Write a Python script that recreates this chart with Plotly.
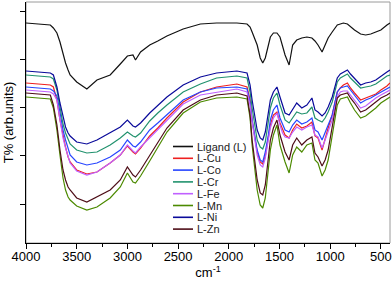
import plotly.graph_objects as go

# wavenumber grid (cm-1)
wavenumber = [4000, 3850, 3760, 3730, 3695, 3665, 3635, 3610, 3585, 3565, 3500, 3400, 3300, 3170,
              3070, 3000, 2945, 2920, 2870, 2780, 2700, 2610, 2450, 2280, 2120, 1920, 1820, 1790,
              1770, 1720, 1690, 1665, 1640, 1610, 1590, 1560, 1525, 1495, 1470, 1445, 1405, 1370,
              1330, 1280, 1230, 1180, 1150, 1120, 1080, 1050, 1020, 980, 930, 900, 870, 830, 800,
              760, 700, 650, 600, 550, 500, 440, 410]

# depth readings (arb. units, larger = lower on chart); T = 250 - depth
ligand = [23, 24, 25, 28, 33, 42, 55, 63, 70, 75, 82, 89, 80, 75, 64, 56, 55, 60, 52, 45, 41, 36, 29,
          24, 23, 23, 24, 27, 32, 45, 58, 63, 58, 45, 37, 33, 33, 37, 45, 55, 65, 45, 40, 38, 37, 38,
          41, 45, 52, 45, 38, 32, 25, 24, 23, 24, 27, 30, 34, 35, 34, 32, 30, 25, 23]
l_cu = [83, 84, 85, 87, 100, 120, 137, 147, 157, 162, 170, 174, 172, 163, 155, 146, 152, 154, 148, 136,
        128, 118, 102, 92, 87, 84, 87, 100, 120, 152, 162, 164, 156, 138, 125, 115, 112, 123, 130, 135,
        138, 130, 124, 128, 126, 122, 136, 138, 150, 138, 128, 115, 92, 88, 85, 83, 88, 93, 100, 98,
        96, 94, 90, 86, 83]
l_co = [87, 88, 89, 91, 96, 112, 130, 140, 150, 155, 162, 165, 163, 157, 150, 140, 146, 147, 142, 130,
        123, 115, 100, 92, 88, 87, 89, 102, 120, 150, 160, 162, 152, 135, 120, 110, 105, 118, 125, 130,
        132, 125, 120, 124, 122, 118, 130, 132, 140, 133, 125, 115, 92, 88, 87, 86, 90, 95, 103, 100,
        98, 95, 92, 89, 87]
l_cr = [75, 76, 77, 79, 90, 107, 124, 133, 140, 144, 150, 153, 152, 145, 138, 132, 136, 137, 133, 121,
        113, 105, 92, 84, 78, 76, 78, 92, 108, 140, 147, 149, 142, 120, 108, 98, 93, 105, 113, 120, 123,
        118, 112, 114, 113, 107, 118, 120, 122, 118, 112, 102, 82, 78, 76, 74, 78, 82, 88, 87, 86, 84,
        80, 76, 75]
l_fe = [90, 91, 92, 94, 100, 120, 138, 148, 158, 163, 171, 175, 172, 163, 155, 145, 151, 153, 147, 138,
        130, 120, 104, 95, 92, 89, 92, 105, 122, 155, 165, 167, 158, 140, 128, 118, 113, 125, 133, 137,
        138, 132, 127, 130, 127, 125, 135, 137, 148, 140, 132, 120, 97, 92, 91, 91, 95, 100, 108, 106,
        102, 98, 95, 92, 90]
l_mn = [97, 98, 99, 108, 130, 155, 178, 190, 197, 200, 206, 210, 207, 198, 187, 173, 182, 183, 176, 161,
        148, 132, 113, 102, 98, 97, 99, 118, 145, 190, 205, 208, 198, 170, 150, 135, 125, 145, 155, 162,
        173, 155, 147, 152, 145, 143, 160, 163, 176, 170, 160, 135, 105, 99, 98, 97, 103, 110, 118, 116,
        112, 108, 103, 99, 97]
l_ni = [71, 72, 73, 75, 87, 103, 118, 127, 133, 136, 142, 144, 140, 133, 127, 120, 126, 127, 123, 113,
        105, 97, 85, 77, 73, 71, 73, 85, 100, 130, 138, 140, 132, 112, 100, 92, 87, 97, 105, 113, 115,
        110, 103, 108, 105, 98, 110, 112, 116, 113, 107, 97, 78, 74, 72, 70, 74, 78, 85, 83, 82, 80,
        76, 72, 70]
l_zn = [93, 94, 95, 105, 125, 150, 170, 180, 187, 190, 198, 202, 197, 190, 180, 167, 175, 177, 170, 155,
        143, 128, 110, 100, 95, 93, 96, 115, 140, 180, 193, 195, 185, 160, 140, 128, 120, 135, 145, 152,
        160, 145, 138, 145, 140, 137, 153, 157, 166, 160, 150, 125, 98, 95, 94, 93, 98, 103, 112, 110,
        106, 102, 98, 95, 93]

series_names = ["Ligand (L)", "L-Cu", "L-Co", "L-Cr", "L-Fe", "L-Mn", "L-Ni", "L-Zn"]
series_data = [ligand, l_cu, l_co, l_cr, l_fe, l_mn, l_ni, l_zn]
series_colors = ["#111111", "#ee2020", "#2846ff", "#22926e", "#c060ff", "#4c8a00", "#0a0a9a", "#4e0e18"]

x_ticks = [4000, 3500, 3000, 2500, 2000, 1500, 1000, 500]

FONT = "Liberation Sans, Arial, sans-serif"
fig = go.Figure()
for name, d, c in zip(series_names, series_data, series_colors):
    fig.add_trace(go.Scatter(x=wavenumber, y=[250 - v for v in d], mode="lines", name=name,
                             line=dict(color=c, width=1.2), showlegend=False))

# manual compact legend
shapes = [dict(type="rect", xref="paper", yref="paper", x0=0, y0=0, x1=1, y1=1,
               line=dict(color="#9a9a9a", width=1), layer="below")]
annotations = []
top_px = 146.5
step = 11.8
pw, ph = 364.0, 241.0
for i, (name, c) in enumerate(zip(series_names, series_colors)):
    ypx = top_px + i * step
    yp = (243 - ypx) / ph
    shapes.append(dict(type="line", xref="paper", yref="paper",
                       x0=(173 - 26) / pw, x1=(193 - 26) / pw, y0=yp, y1=yp,
                       line=dict(color=c, width=1.6)))
    annotations.append(dict(xref="paper", yref="paper", x=(195 - 26) / pw, y=yp, text=name,
                            showarrow=False, xanchor="left", yanchor="middle",
                            font=dict(size=11, color="#222222", family=FONT)))

fig.update_layout(
    width=392, height=287,
    margin=dict(l=26, r=2, t=2, b=44),
    paper_bgcolor="white", plot_bgcolor="white",
    font=dict(family=FONT, size=12, color="black"),
    shapes=shapes, annotations=annotations,
    xaxis=dict(range=[4000, 410], autorange=False, tickmode="array", tickvals=x_ticks,
               ticktext=[str(t) for t in x_ticks], ticks="outside", ticklen=5, tickwidth=1,
               tickcolor="black", showline=True, linecolor="black", linewidth=1,
               showgrid=False, zeroline=False, automargin=False, ticklabelstandoff=-4,
               minor=dict(ticks="outside", ticklen=3, tickcolor="black", dtick=250, tick0=0,
                          showgrid=False),
               tickfont=dict(size=13, family=FONT),
               title=dict(text="cm<sup>-1</sup>", font=dict(size=13, family=FONT), standoff=4)),
    yaxis=dict(range=[7, 248], autorange=False, tick0=46, dtick=48.25, showticklabels=False,
               ticks="outside", ticklen=5, tickcolor="black", showline=True, linecolor="black",
               linewidth=1, showgrid=False, zeroline=False, automargin=False,
               minor=dict(ticks="outside", ticklen=3, tickcolor="black", showgrid=False),
               title=dict(text="T% (arb.units)", font=dict(size=13, family=FONT), standoff=3)),
)
fig.write_html("out.html", config={"displayModeBar": False},
               post_script="document.body.style.margin='0px';")
